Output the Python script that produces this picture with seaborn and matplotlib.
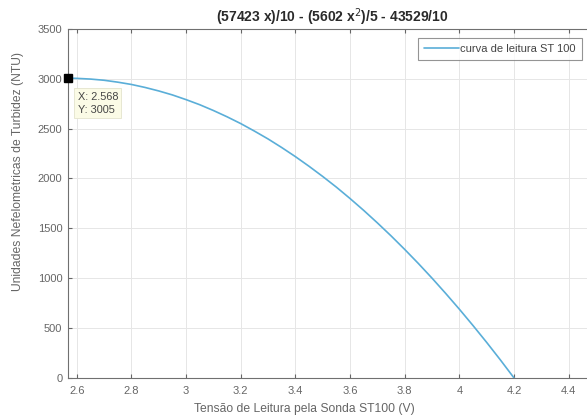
import seaborn as sns
import numpy as np
import matplotlib.pyplot as plt
import pandas as pd
from matplotlib.ticker import FuncFormatter

# tensão lida (V) e turbidez (NTU)
tensao = [2.568, 2.6, 2.65, 2.7, 2.75, 2.8, 2.85, 2.9, 2.95, 3.0, 3.05, 3.1, 3.15, 3.2,
          3.25, 3.3, 3.35, 3.4, 3.45, 3.5, 3.55, 3.6, 3.65, 3.7, 3.75, 3.8, 3.85, 3.9,
          3.95, 4.0, 4.05, 4.1, 4.15, 4.2]
ntu = [3005, 3003, 2996, 2984, 2965, 2942, 2912, 2877, 2837, 2790, 2739, 2681, 2618, 2550,
       2475, 2396, 2310, 2219, 2122, 2020, 1913, 1799, 1680, 1555, 1425, 1289, 1148, 1001,
       848, 690, 526, 357, 182, 1]
x_ticks = [2.6, 2.8, 3.0, 3.2, 3.4, 3.6, 3.8, 4.0, 4.2, 4.4]
y_ticks = [0, 500, 1000, 1500, 2000, 2500, 3000, 3500]
ponto_x, ponto_y = 2.568, 3005

df = pd.DataFrame({"tensao": tensao, "ntu": ntu})

sns.set_style("whitegrid")
plt.rcParams['font.family'] = ['Liberation Sans', 'DejaVu Sans']

fig = plt.figure(figsize=(5.87, 4.17), dpi=100)
ax = fig.add_axes([0.1158, 0.0935, 0.8995, 0.8375])

cinza = "#666666"
sns.lineplot(x="tensao", y="ntu", data=df, ax=ax, color="#5aaed8", linewidth=1.2,
             label="curva de leitura ST 100", sort=False)

# ponto marcado (datatip)
ax.plot([ponto_x], [ponto_y], marker="s", color="black", markersize=6, clip_on=False, zorder=5)
ax.text(ponto_x + 0.035, ponto_y - 135, "X: %.3f\nY: %d" % (ponto_x, ponto_y), fontsize=7.8,
        color="#444444", va="top", ha="left", linespacing=1.45,
        bbox=dict(boxstyle="square,pad=0.3", fc="#fbfbe6", ec="#e4e4cc", lw=0.6), zorder=6)

ax.set_xlim(2.568, 4.5)
ax.set_ylim(0, 3500)
ax.set_xticks(x_ticks)
ax.set_yticks(y_ticks)
ax.xaxis.set_major_formatter(FuncFormatter(lambda v, p: "%g" % v))
ax.tick_params(direction="in", length=3, labelsize=8, colors=cinza, pad=4)
ax.tick_params(axis="x", pad=6)
ax.tick_params(top=True, right=True, bottom=True, left=True)
ax.grid(True, color="#e6e6e6", linewidth=0.7)
for s in ax.spines.values():
    s.set_color("#707070")
    s.set_linewidth(0.8)

ax.set_title("(57423 x)/10 - (5602 x$^2$)/5 - 43529/10", fontsize=10, fontweight="bold",
             color="#2a2a2a", pad=5)
ax.set_xlabel("Tensão de Leitura pela Sonda ST100 (V)", fontsize=8.7, color=cinza)
ax.set_ylabel("Unidades Nefelométricas de Turbidez (NTU)", fontsize=8.7, color=cinza)
ax.xaxis.set_label_coords(0.447, -0.072)
ax.yaxis.set_label_coords(-0.083, 0.59)

leg = ax.legend(loc="upper right", bbox_to_anchor=(0.9915, 0.909), bbox_transform=fig.transFigure,
                borderaxespad=0, fontsize=8, frameon=True, fancybox=False, handlelength=3.2,
                handletextpad=0.1, borderpad=0.55)
leg.get_frame().set_edgecolor("#7a7a7a")
leg.get_frame().set_linewidth(0.8)
for t in leg.get_texts():
    t.set_color("#444444")

plt.savefig("out.png", dpi=100)
